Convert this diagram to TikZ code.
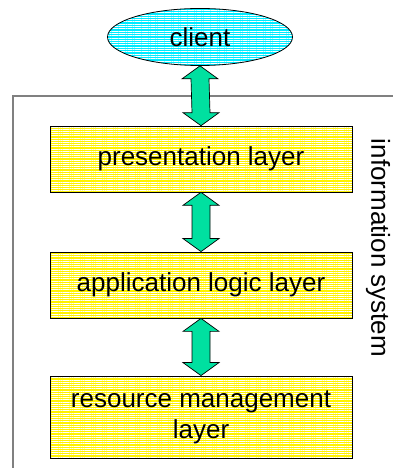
\documentclass[tikz,border=0pt]{standalone}
\usepackage{fontspec}
\setmainfont{Liberation Sans}
\usepackage{tikz}
\usetikzlibrary{shapes.geometric, patterns.meta, positioning, calc}
\definecolor{mint}{RGB}{0,224,160}
\definecolor{skycyan}{RGB}{0,235,255}

\begin{document}
\begin{tikzpicture}[x=1pt, y=1pt,
  every node/.style={font=\fontsize{26}{31}\selectfont},
  layerbox/.style={draw=black, line width=0.8pt, preaction={fill=yellow},
    pattern={Lines[angle=0,distance=2.2pt,line width=0.6pt]}, pattern color=white,
    minimum width=302pt, align=center, inner sep=0pt},
  clientnode/.style={ellipse, draw=black, line width=0.8pt, preaction={fill=skycyan},
    pattern={Lines[angle=0,distance=2.3pt,line width=0.7pt]}, pattern color=white,
    minimum width=185pt, minimum height=57pt, inner sep=0pt},
  fatarr/.style={draw=black, line width=0.7pt, fill=mint, line join=miter}]
\useasboundingbox (0,0) rectangle (392,468);

% information system frame
\draw[gray, line width=1.5pt] (13,-5) |- (397,372);
\node[rotate=-90, inner sep=0pt] (sys) at (378,220) {information system};

% client and layers
\node[clientnode] (client) at (200,431) {client};
\node[layerbox, minimum height=66pt] (pres) at (201,309) {presentation layer};
\node[layerbox, minimum height=66pt] (app) at (201,183) {application logic layer};
\node[layerbox, minimum height=82pt] (res) at (201,51) {resource management\\layer};

% double arrows between them
\foreach \a/\b in {client/pres, pres/app, app/res} {
  \draw[fatarr] (\a.south) -- ++(-18,-13) -- ++(9,0)
    -- ($(\b.north)+(-9,13)$) -- ++(-9,0) -- (\b.north)
    -- ++(18,13) -- ++(-9,0) -- ($(\a.south)+(9,-13)$) -- ++(9,0) -- cycle;
}
\end{tikzpicture}
\end{document}
